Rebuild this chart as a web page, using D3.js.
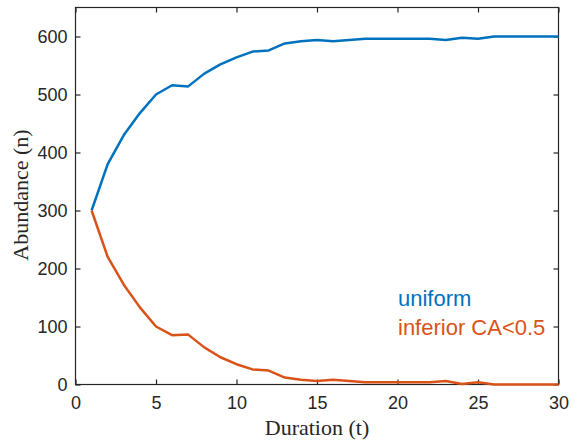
<!DOCTYPE html>
<html><head><meta charset="utf-8">
<script src="https://cdn.jsdelivr.net/npm/d3@7"></script>
<style>body{margin:0;background:#fff}</style>
</head><body><svg id="c" width="571" height="442"></svg>
<script>
const t = d3.range(1, 31);
const uniform = [300,380,430,468,500,516,514,536,552,564,574,576,588,592,594,592,594,596,596,596,596,596,594,598,596,600,600,600,600,600];
const inferior = [300,220,172,133,100,85,86,64,47,35,26,24,12,8,6,8,6,4,4,4,4,4,6,1,4,0,0,0,0,0];
const xTicks = [0,5,10,15,20,25,30];
const yTicks = [0,100,200,300,400,500,600];
const seriesNames = ["uniform","inferior CA<0.5"];
const colors = ["#0072BD","#D95319"];

const svg = d3.select("#c");
const L=75.5, R=558.5, T=7.5, B=384.5;
const x = d3.scaleLinear().domain([0,30]).range([L,R]);
const y = d3.scaleLinear().domain([0,650]).range([B,T]);

const font = "Liberation Sans, Arial, Helvetica, sans-serif";
const serif = "Liberation Serif, Times New Roman, serif";

function styleAxis(g){
  g.select(".domain").remove();
  g.selectAll("line").attr("stroke","#262626").attr("stroke-width",1.2);
  g.selectAll("text").attr("font-family",font).attr("font-size",18).attr("fill","#262626");
}
svg.append("g").attr("transform",`translate(0,${B})`)
  .call(d3.axisBottom(x).tickValues(xTicks).tickSizeInner(-5).tickSizeOuter(0).tickPadding(11.5))
  .call(styleAxis);
svg.append("g").attr("transform",`translate(0,${T})`)
  .call(d3.axisTop(x).tickValues(xTicks).tickSizeInner(-5).tickSizeOuter(0).tickFormat(""))
  .call(styleAxis);
svg.append("g").attr("transform",`translate(${L},0)`)
  .call(d3.axisLeft(y).tickValues(yTicks).tickSizeInner(-5).tickSizeOuter(0).tickPadding(8))
  .call(styleAxis);
svg.append("g").attr("transform",`translate(${R},0)`)
  .call(d3.axisRight(y).tickValues(yTicks).tickSizeInner(-5).tickSizeOuter(0).tickFormat(""))
  .call(styleAxis);

svg.append("rect").attr("x",L).attr("y",T).attr("width",R-L).attr("height",B-T)
  .attr("fill","none").attr("stroke","#262626").attr("stroke-width",1.2);

const line = d3.line().x((d,i)=>x(t[i])).y(d=>y(d));
[uniform, inferior].forEach((s,k)=>{
  svg.append("path").datum(s).attr("d",line).attr("fill","none")
    .attr("stroke",colors[k]).attr("stroke-width",2.5).attr("stroke-linejoin","round");
});

seriesNames.forEach((n,k)=>{
  svg.append("text").attr("x",398).attr("y",306+k*28.5).text(n)
    .attr("font-family",font).attr("font-size",22).attr("fill",colors[k]);
});

svg.append("text").attr("x",(L+R)/2).attr("y",435).attr("text-anchor","middle")
  .attr("font-family",serif).attr("font-size",22).attr("fill","#262626").text("Duration (t)");
svg.append("text").attr("transform",`translate(28,195) rotate(-90)`).attr("text-anchor","middle")
  .attr("font-family",serif).attr("font-size",22).attr("fill","#262626").text("Abundance (n)");
</script></body></html>
